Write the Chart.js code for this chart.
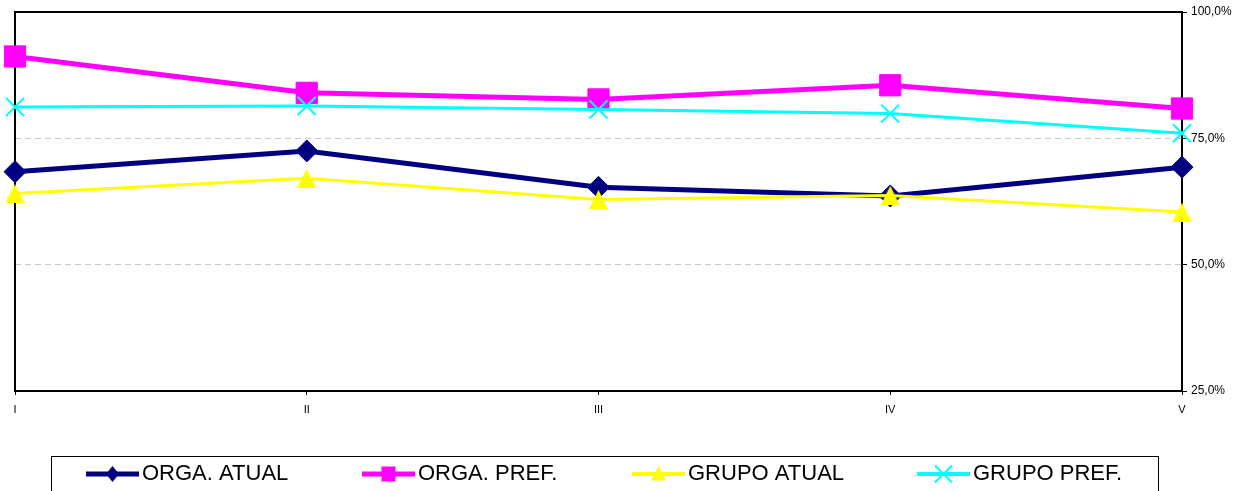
<!DOCTYPE html>
<html>
<head>
<meta charset="utf-8">
<script src="https://cdn.jsdelivr.net/npm/chart.js@4/dist/chart.umd.min.js"></script>
<style>
  html, body { margin: 0; padding: 0; background: #fff; }
  #wrap { width: 1250px; height: 491px; }
</style>
</head>
<body>
<div id="wrap"><canvas id="c" width="1250" height="491"></canvas></div>
<script>
// Categories and series (percent values)
const categories = ['I', 'II', 'III', 'IV', 'V'];
const orgaAtual  = [68.4, 72.5, 65.3, 63.6, 69.3];
const orgaPref   = [91.2, 84.0, 82.7, 85.5, 80.9];
const grupoAtual = [64.1, 67.1, 62.9, 63.7, 60.4];
const grupoPref  = [81.2, 81.4, 80.7, 79.9, 76.0];
const yTicks     = [25, 50, 75, 100];

const FONT = "'Liberation Sans', Arial, sans-serif";

// Triangle marker centred on its bounding box
function triangleMarker(size, color) {
  const c = document.createElement('canvas');
  c.width = size; c.height = size;
  const g = c.getContext('2d');
  g.fillStyle = color;
  g.beginPath();
  g.moveTo(size / 2, 0);
  g.lineTo(size, size);
  g.lineTo(0, size);
  g.closePath();
  g.fill();
  return c;
}

const series = [
  { label: 'ORGA. ATUAL', data: orgaAtual, color: '#000080', width: 5, style: 'rectRot', radius: 11, order: 4 },
  { label: 'ORGA. PREF.', data: orgaPref, color: '#FF00FF', width: 5, style: 'rect', radius: 15, order: 3 },
  { label: 'GRUPO ATUAL', data: grupoAtual, color: '#FFFF00', width: 3, style: triangleMarker(19, '#FFFF00'), radius: 10, order: 2 },
  { label: 'GRUPO PREF.', data: grupoPref, color: '#00FFFF', width: 3, style: 'crossRot', radius: 12.7, order: 1 }
];

// Plot frame drawn beneath the series
const framePlugin = {
  id: 'frame',
  beforeDatasetsDraw(chart) {
    const { ctx, chartArea: a } = chart;
    ctx.save();
    ctx.strokeStyle = '#000';
    ctx.lineWidth = 2;
    ctx.strokeRect(a.left, a.top, a.right - a.left, a.bottom - a.top);
    ctx.restore();
  }
};

// Boxed legend along the bottom with line + marker samples
function legendMarker(ctx, kind, x, y, color) {
  ctx.save();
  ctx.fillStyle = color;
  ctx.strokeStyle = color;
  ctx.beginPath();
  if (kind === 0) {            // diamond
    ctx.moveTo(x, y - 8); ctx.lineTo(x + 6.5, y); ctx.lineTo(x, y + 8); ctx.lineTo(x - 6.5, y);
    ctx.closePath(); ctx.fill();
  } else if (kind === 1) {     // square
    ctx.rect(x - 7, y - 7.5, 14, 15); ctx.fill();
  } else if (kind === 2) {     // triangle
    ctx.moveTo(x, y - 8); ctx.lineTo(x + 7.5, y + 6.5); ctx.lineTo(x - 7.5, y + 6.5);
    ctx.closePath(); ctx.fill();
  } else {                     // x cross
    ctx.lineWidth = 2;
    ctx.moveTo(x - 8.5, y - 8.5); ctx.lineTo(x + 8.5, y + 8.5);
    ctx.moveTo(x + 8.5, y - 8.5); ctx.lineTo(x - 8.5, y + 8.5);
    ctx.stroke();
  }
  ctx.restore();
}

const boxLegendPlugin = {
  id: 'boxLegend',
  afterDraw(chart) {
    const ctx = chart.ctx;
    const starts = [86, 362, 632, 917];
    const y = 474;
    ctx.save();
    ctx.strokeStyle = '#000';
    ctx.lineWidth = 1;
    ctx.strokeRect(51.5, 456.5, 1107, 60);
    chart.data.datasets.forEach((ds, i) => {
      const x0 = starts[i];
      ctx.strokeStyle = ds.borderColor;
      ctx.lineWidth = i < 2 ? 5 : 4;
      ctx.beginPath();
      ctx.moveTo(x0, y);
      ctx.lineTo(x0 + 53, y);
      ctx.stroke();
      legendMarker(ctx, i, x0 + 26.5, y, ds.borderColor);
      ctx.fillStyle = '#000';
      ctx.font = '22px ' + FONT;
      ctx.textBaseline = 'middle';
      ctx.textAlign = 'left';
      ctx.fillText(ds.label, x0 + 56, y);
    });
    ctx.restore();
  }
};

new Chart(document.getElementById('c'), {
  type: 'line',
  data: {
    labels: categories,
    datasets: series.map(s => ({
      label: s.label,
      data: s.data,
      borderColor: s.color,
      backgroundColor: s.color,
      borderWidth: s.width,
      tension: 0,
      fill: false,
      clip: false,
      pointStyle: s.style,
      pointRadius: s.radius,
      pointBackgroundColor: s.color,
      pointBorderColor: s.color,
      pointBorderWidth: s.style === 'crossRot' ? 2 : 1,
      order: s.order
    }))
  },
  plugins: [framePlugin, boxLegendPlugin],
  options: {
    responsive: false,
    animation: false,
    events: [],
    layout: { autoPadding: false, padding: { left: 15, top: 12, right: 0, bottom: 0 } },
    plugins: {
      legend: { display: false },
      tooltip: { enabled: false },
      title: { display: false }
    },
    scales: {
      x: {
        type: 'category',
        offset: false,
        border: { display: false },
        grid: { drawOnChartArea: false, drawTicks: true, tickLength: 4, tickColor: '#000', tickWidth: 1 },
        ticks: {
          color: '#000',
          font: { family: FONT, size: 11 },
          padding: 8,
          maxRotation: 0,
          autoSkip: false
        },
        afterFit: (scale) => { scale.height = 100; scale.paddingLeft = 0; scale.paddingRight = 0; }
      },
      y: {
        position: 'right',
        min: 25,
        max: 100,
        border: { display: false, dash: [6, 4] },
        grid: {
          color: (c) => (c.tick && (c.tick.value === 50 || c.tick.value === 75)) ? '#c8c8c8' : 'rgba(0,0,0,0)',
          lineWidth: 1,
          borderDash: [6, 4],
          drawTicks: true,
          tickLength: 5,
          tickColor: '#000',
          tickWidth: 1,
          tickBorderDash: []
        },
        afterBuildTicks: (scale) => { scale.ticks = yTicks.map(v => ({ value: v })); },
        ticks: {
          color: '#000',
          font: { family: FONT, size: 12 },
          padding: 4,
          callback: (v) => v.toFixed(1).replace('.', ',') + '%'
        },
        afterFit: (scale) => { scale.width = 68; scale.paddingTop = 0; scale.paddingBottom = 0; }
      }
    }
  }
});
</script>
</body>
</html>
